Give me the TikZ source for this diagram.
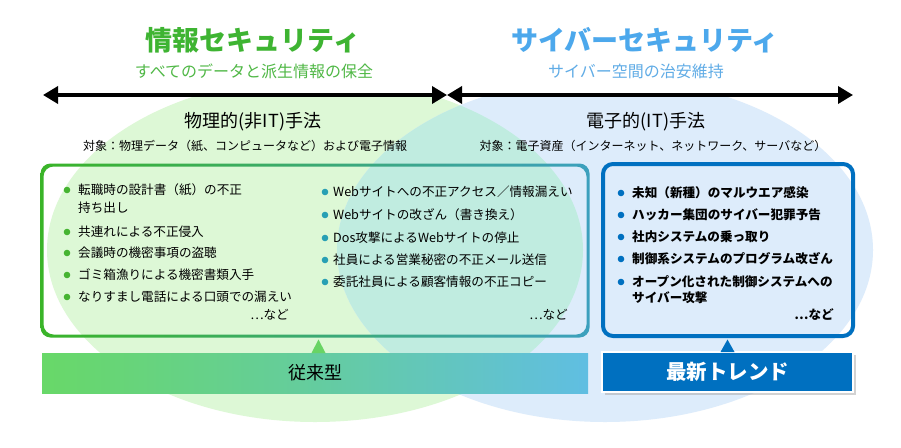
\documentclass[tikz,border=0pt]{standalone}
\usepackage{fontspec}
\setmainfont{Noto Sans CJK JP}
\usetikzlibrary{arrows.meta,shadows}
\definecolor{titleG}{RGB}{62,180,50}
\definecolor{subG}{RGB}{80,184,70}
\definecolor{titleB}{RGB}{76,168,236}
\definecolor{subB}{RGB}{96,172,230}
\definecolor{ellG}{RGB}{221,248,214}
\definecolor{ellB}{RGB}{221,236,251}
\definecolor{ellT}{RGB}{192,236,224}
\definecolor{bordG}{RGB}{58,180,40}
\definecolor{bordT}{RGB}{60,160,190}
\definecolor{dotG}{RGB}{70,180,50}
\definecolor{dotT}{RGB}{40,160,180}
\definecolor{dkblue}{RGB}{0,112,192}
\definecolor{barG}{RGB}{104,216,104}
\definecolor{barB}{RGB}{96,190,226}
\definecolor{triG}{RGB}{104,212,100}
\begin{document}
\begin{tikzpicture}[x=1pt,y=-1pt,
  title/.style={font=\fontsize{27}{30}\selectfont\bfseries, inner sep=0},
  subt/.style={font=\fontsize{16}{18}\selectfont, inner sep=0},
  meth/.style={font=\fontsize{18}{20}\selectfont, inner sep=0},
  target/.style={font=\fontsize{12}{14}\selectfont, inner sep=0},
  item/.style={anchor=west, font=\fontsize{12.6}{14}\selectfont, inner sep=0},
  bitem/.style={item, font=\fontsize{12.6}{14}\selectfont\bfseries},
  etc/.style={anchor=east, font=\fontsize{12.6}{14}\selectfont, inner sep=0},
  bigarrow/.style={line width=3.5pt, {Triangle[length=15pt,width=17pt]}-{Triangle[length=15pt,width=17pt]}},
]
\useasboundingbox (0,0) rectangle (901,447);
\fill[white] (0,0) rectangle (901,447);

% ellipses
\begin{scope}
  \clip (0,96) rectangle (901,447);
  \fill[ellG] (315,250) ellipse [x radius=268pt, y radius=172pt];
  \fill[ellB] (605,250) ellipse [x radius=268pt, y radius=172pt];
  \begin{scope}
    \clip (315,250) ellipse [x radius=268pt, y radius=172pt];
    \fill[ellT] (605,250) ellipse [x radius=268pt, y radius=172pt];
  \end{scope}
\end{scope}

% titles
\node[title, text=titleG] (t1) at (253,40) {情報セキュリティ};
\node[subt, text=subG] (s1) at (254,71) {すべてのデータと派生情報の保全};
\node[title, text=titleB] (t2) at (645,40) {サイバーセキュリティ};
\node[subt, text=subB] (s2) at (636,71) {サイバー空間の治安維持};

% arrows
\coordinate (aL) at (43,95);
\coordinate (aM) at (447,95);
\coordinate (aR) at (853,95);
\draw[bigarrow] (aL) -- (aM);
\draw[bigarrow] (aM) -- (aR);

% method headings
\node[meth] (m1) at (253,122) {物理的(非IT)手法};
\node[target] (o1) at (245,146) {対象：物理データ（紙、コンピュータなど）および電子情報};
\node[meth] (m2) at (646,122) {電子的(IT)手法};
\node[target] (o2) at (653,146) {対象：電子資産（インターネット、ネットワーク、サーバなど）};

% green/teal box border (gradient)
\begin{scope}[even odd rule, rounded corners=10pt]
  \clip (40.5,163.5) rectangle (589.5,337.5) (43.5,166.5) rectangle (586.5,334.5);
  \shade[left color=bordG, middle color=bordG!70!bordT, right color=bordT] (40,163) rectangle (590,338);
\end{scope}

% blue box
\draw[dkblue, line width=4pt, rounded corners=10pt] (603,164) rectangle (853,336);

% left list
\foreach \y in {190,232,253,275,297} \fill[dotG] (67,\y) circle (3.3pt);
\node[item] (l1) at (78,190) {転職時の設計書（紙）の不正};
\node[item] (l1b) at (78,208) {持ち出し};
\node[item] (l2) at (78,232) {共連れによる不正侵入};
\node[item] (l3) at (78,253) {会議時の機密事項の盗聴};
\node[item] (l4) at (78,275) {ゴミ箱漁りによる機密書類入手};
\node[item] (l5) at (78,297) {なりすまし電話による口頭での漏えい};
\node[etc] (le) at (289,315) {…など};

% middle list
\foreach \y in {192,215,238,260,282} \fill[dotT] (325,\y) circle (3.3pt);
\node[item] (c1) at (333,192) {Webサイトへの不正アクセス／情報漏えい};
\node[item] (c2) at (333,215) {Webサイトの改ざん（書き換え）};
\node[item] (c3) at (333,238) {Dos攻撃によるWebサイトの停止};
\node[item] (c4) at (333,260) {社員による営業秘密の不正メール送信};
\node[item] (c5) at (333,282) {委託社員による顧客情報の不正コピー};
\node[etc] (ce) at (568,315) {…など};

% right list
\foreach \y in {193,215,237,259,282} \fill[dkblue] (621,\y) circle (3.3pt);
\node[bitem] (r1) at (632,193) {未知（新種）のマルウエア感染};
\node[bitem] (r2) at (632,215) {ハッカー集団のサイバー犯罪予告};
\node[bitem] (r3) at (632,237) {社内システムの乗っ取り};
\node[bitem] (r4) at (632,259) {制御系システムのプログラム改ざん};
\node[bitem] (r5) at (632,282) {オープン化された制御システムへの};
\node[bitem] (r5b) at (632,298) {サイバー攻撃};
\node[etc, font=\fontsize{12.6}{14}\selectfont\bfseries] (re) at (834,315) {…など};

% bottom bars
\shade[left color=barG, right color=barB, middle color=barG!55!barB] (42,353) rectangle (588,393);
\node[font=\fontsize{18}{20}\selectfont, inner sep=0] (b1) at (315,373) {従来型};
\fill[triG] (311.5,353) -- (318.5,339.5) -- (325.5,353) -- cycle;

\node[fill=dkblue, draw=white, line width=1.5pt, minimum width=251pt, minimum height=40pt,
      drop shadow={shadow xshift=2.5pt, shadow yshift=-2.5pt, fill=black!35},
      text=white, font=\fontsize{20.5}{22}\selectfont\bfseries] (b2) at (727.5,372) {最新トレンド};
\fill[dkblue] (720.5,352) -- (727.5,339.5) -- (734.5,352) -- cycle;
\end{tikzpicture}
\end{document}
